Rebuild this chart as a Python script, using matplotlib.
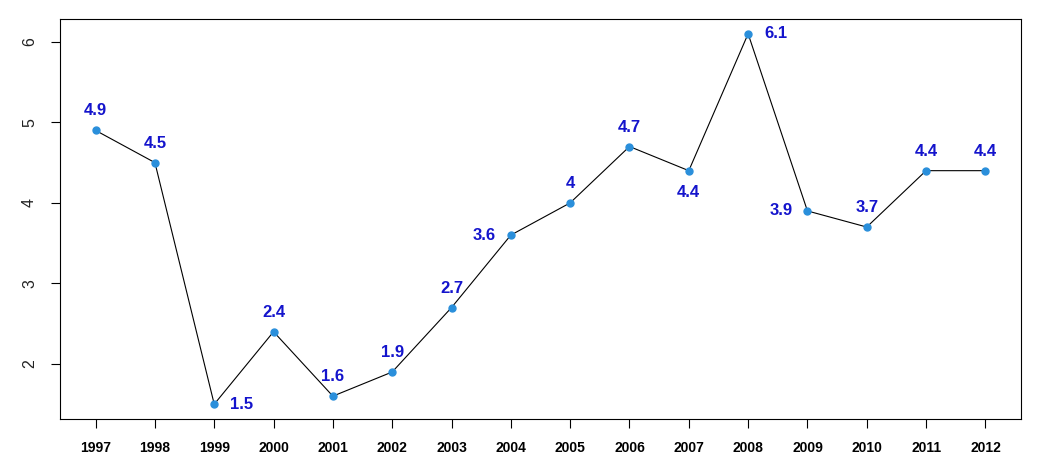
import matplotlib
matplotlib.use("Agg")
import matplotlib.pyplot as plt

years = [1997, 1998, 1999, 2000, 2001, 2002, 2003, 2004, 2005, 2006, 2007, 2008, 2009, 2010, 2011, 2012]
values = [4.9, 4.5, 1.5, 2.4, 1.6, 1.9, 2.7, 3.6, 4.0, 4.7, 4.4, 6.1, 3.9, 3.7, 4.4, 4.4]
labels = ["4.9", "4.5", "1.5", "2.4", "1.6", "1.9", "2.7", "3.6", "4", "4.7", "4.4", "6.1", "3.9", "3.7", "4.4", "4.4"]
# where each label sits, like R's pos: 1 below, 2 left, 3 above, 4 right
label_pos = [3, 3, 4, 3, 3, 3, 3, 2, 3, 3, 1, 4, 2, 3, 3, 3]

plt.rcParams['font.family'] = ['Liberation Sans', 'DejaVu Sans']

fig = plt.figure(figsize=(10.49, 4.74), dpi=100)
ax = fig.add_axes([0.0572, 0.116, 0.9161, 0.844])

ax.plot(years, values, color="black", linewidth=0.8, zorder=1)
ax.plot(years, values, "o", color="#2A8FDB", markersize=5, zorder=2)

offsets = {1: (0, -16), 2: (-19, 0), 3: (0, 14), 4: (20, 0)}
for x, y, lab, p in zip(years, values, labels, label_pos):
    ax.annotate(lab, (x, y), xytext=offsets[p], textcoords="offset points",
                ha="center", va="center", color="#1414CC",
                fontsize=12, fontweight="bold")

# R-style 4% padding on both axes
xr = max(years) - min(years)
yr = max(values) - min(values)
ax.set_xlim(min(years) - 0.04 * xr, max(years) + 0.04 * xr)
ax.set_ylim(min(values) - 0.04 * yr, max(values) + 0.04 * yr)

ax.set_xticks(years)
ax.set_xticklabels([str(y) for y in years], fontweight="bold", fontsize=10)
ax.set_yticks([2, 3, 4, 5, 6])
ax.set_yticklabels(["2", "3", "4", "5", "6"], rotation=90, va="center", fontsize=11.5, color="#222222")
ax.tick_params(axis="x", length=6.5, width=0.8, pad=9)
ax.tick_params(axis="y", length=6.5, width=0.8, pad=10)
for s in ax.spines.values():
    s.set_linewidth(0.8)

fig.savefig("out.png", dpi=100)
